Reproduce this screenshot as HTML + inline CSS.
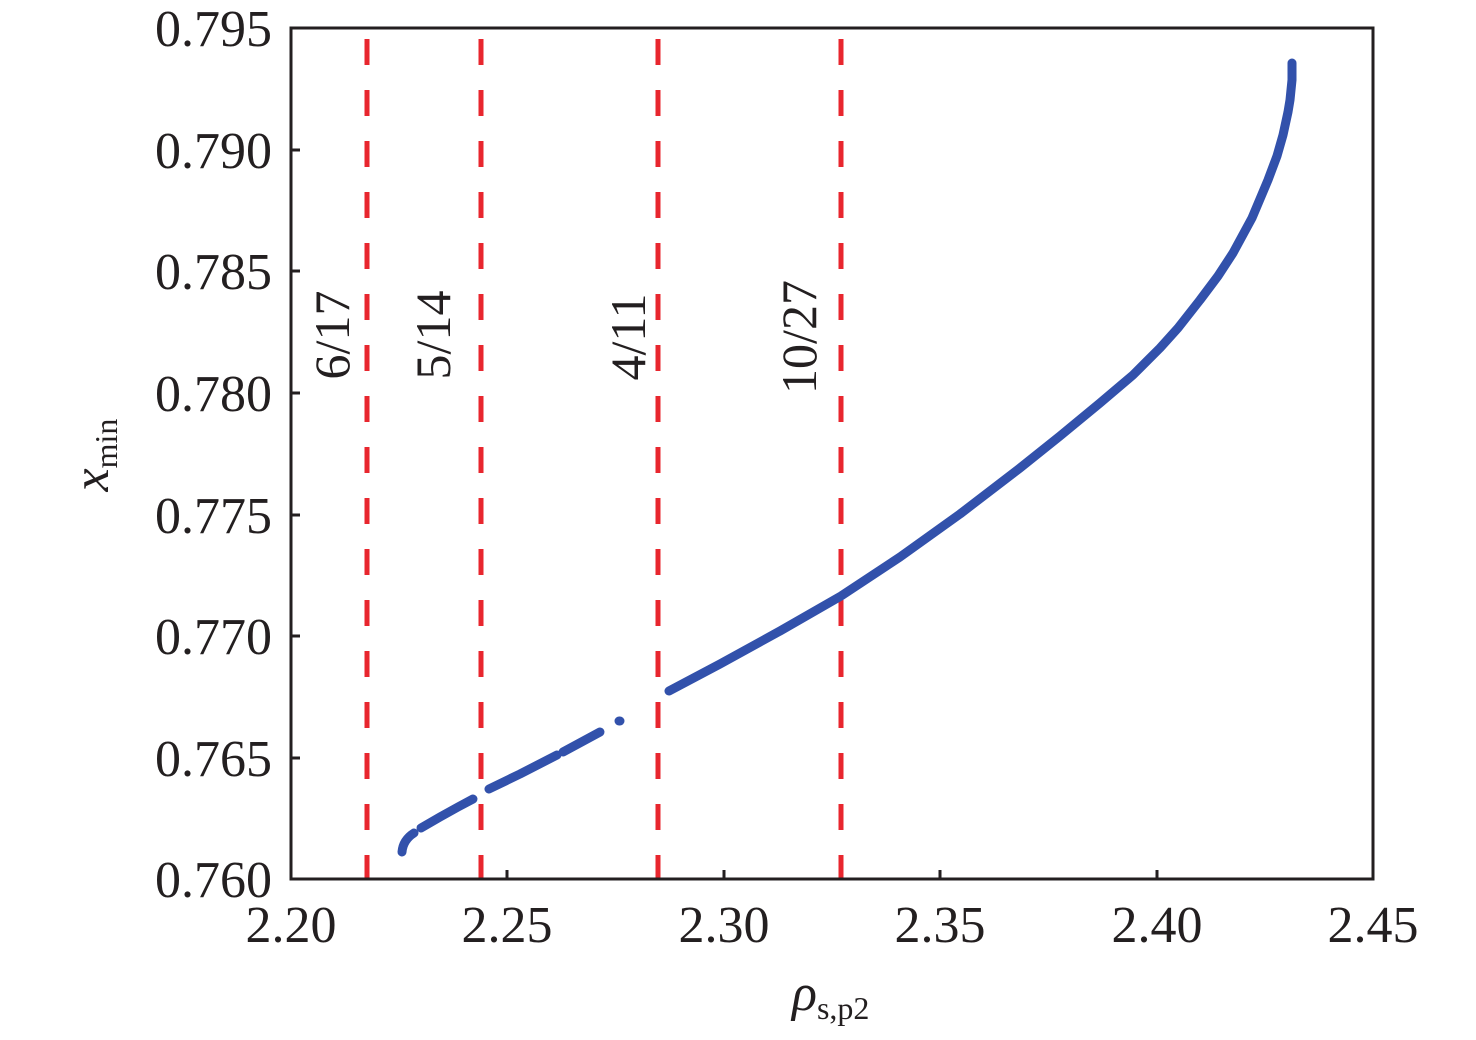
<!DOCTYPE html>
<html><head><meta charset="utf-8"><style>body{margin:0;background:#fff} svg text{font-family:"Liberation Serif","Times New Roman",serif}</style></head><body>
<svg width="1476" height="1035" viewBox="0 0 1476 1035" xmlns="http://www.w3.org/2000/svg">
<rect width="1476" height="1035" fill="#fff"/>
<g stroke="#e8262e" stroke-width="5" stroke-dasharray="26,25">
<line x1="367" y1="39" x2="367" y2="879"/>
<line x1="481" y1="39" x2="481" y2="879"/>
<line x1="658" y1="39" x2="658" y2="879"/>
<line x1="841" y1="39" x2="841" y2="879"/>
</g>
<g fill="none" stroke="#3251ab" stroke-width="9" stroke-linecap="round" stroke-linejoin="round">
<path d="M402,852 Q403,840 414,833"/>
<polyline points="421,828 440,817 458,807 473,799"/>
<polyline points="489,789 520,774 557,755"/>
<polyline points="563,752 600,732"/>
<polyline points="619,721 620,721"/>
<polyline points="669,691 720,664 780,631 841,596 900,557 960,514 1020,468 1060,436 1100,403 1133,375 1160,348 1178,328 1200,300 1218,276 1233,253 1252,218 1268,180 1277,156 1283,135 1288,112 1290,100 1292,80 1292,63"/>
</g>
<g stroke="#231f20" stroke-width="3" fill="none">
<rect x="291" y="28" width="1082" height="851"/>
<path d="M291 150h9M291 271h9M291 393h9M291 515h9M291 636h9M291 758h9M507 879v-9M724 879v-9M940 879v-9M1157 879v-9"/>
</g>
<g font-size="52" fill="#231f20" text-anchor="end">
<text x="272" y="46">0.795</text><text x="272" y="168">0.790</text><text x="272" y="289">0.785</text><text x="272" y="411">0.780</text><text x="272" y="533">0.775</text><text x="272" y="654">0.770</text><text x="272" y="776">0.765</text><text x="272" y="897">0.760</text>
</g>
<g font-size="52" fill="#231f20" text-anchor="middle">
<text x="291" y="942">2.20</text><text x="507" y="942">2.25</text><text x="724" y="942">2.30</text><text x="940" y="942">2.35</text><text x="1157" y="942">2.40</text><text x="1373" y="942">2.45</text>
</g>
<g font-size="50" fill="#231f20" text-anchor="middle">
<text transform="translate(349,335) rotate(-90)">6/17</text>
<text transform="translate(450,335) rotate(-90)">5/14</text>
<text transform="translate(645,337) rotate(-90)">4/11</text>
<text transform="translate(816,337) rotate(-90)">10/27</text>
</g>
<text transform="translate(108,455) rotate(-90)" font-size="52" fill="#231f20" text-anchor="middle"><tspan font-style="italic">x</tspan><tspan font-size="32" dy="9">min</tspan></text>
<text x="792" y="1010" font-size="52" fill="#231f20"><tspan font-style="italic">ρ</tspan><tspan font-size="32" dy="9">s,p2</tspan></text>
</svg>
</body></html>
